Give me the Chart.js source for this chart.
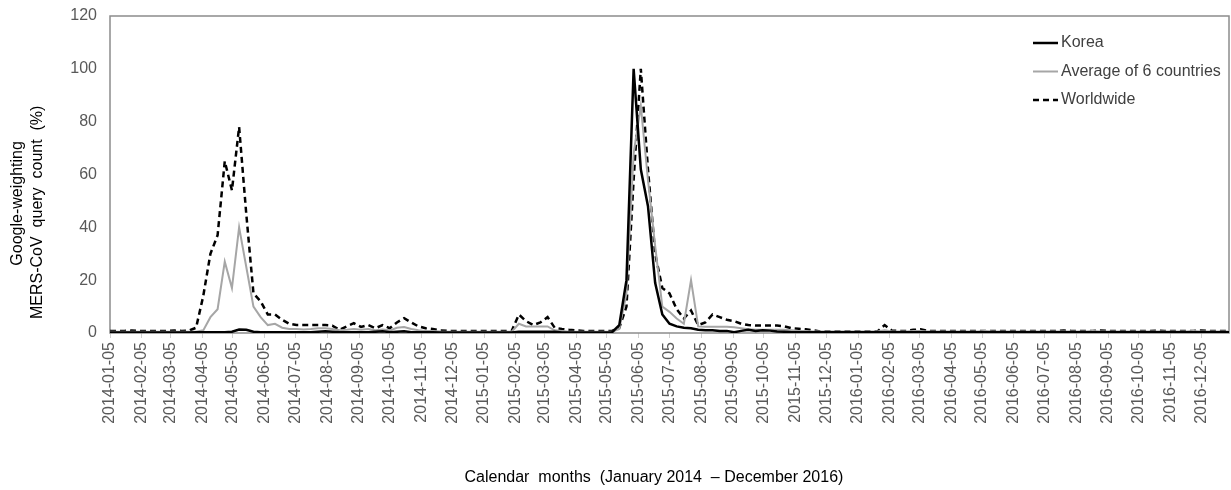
<!DOCTYPE html>
<html>
<head>
<meta charset="utf-8">
<script src="https://cdn.jsdelivr.net/npm/chart.js@4.4.1/dist/chart.umd.min.js"></script>
<style>
  html, body { margin: 0; padding: 0; background: #fff; }
  #chart { display: block; }
</style>
</head>
<body>
<canvas id="chart" width="1231" height="490"></canvas>
<script>
// weekly series, first week 2014-01-05
var startDate = '2014-01-05';

var korea = [
    0.2,0.2,0.2,0.2,0.2,0.2,0.2,0.2,0.2,0.2,0.2,0.2,
    0.3,0.3,0.3,0.3,0.3,0.5,1.3,1.2,0.5,0.3,0.3,0.3,
    0.3,0.3,0.3,0.3,0.3,0.5,0.7,0.5,0.3,0.3,0.3,0.3,
    0.3,0.5,0.7,0.3,0.5,0.7,0.3,0.3,0.3,0.3,0.2,0.2,
    0.2,0.2,0.2,0.2,0.2,0.2,0.2,0.2,0.2,0.5,0.5,0.5,
    0.5,0.5,0.5,0.2,0.2,0.2,0.2,0.2,0.2,0.2,0.3,3,
    20,100,62,48,19,7,3.5,2.5,2,1.8,1.2,1,
    1,0.8,0.8,0.3,0.8,1.2,0.8,1,0.9,0.6,0.5,0.3,
    0.3,0.3,0.3,0.3,0.3,0.3,0.3,0.3,0.3,0.3,0.3,0.3,
    0.3,0.3,0.3,0.3,0.3,0.3,0.3,0.3,0.3,0.3,0.3,0.3,
    0.3,0.3,0.3,0.3,0.3,0.3,0.3,0.3,0.3,0.3,0.3,0.3,
    0.3,0.3,0.3,0.3,0.3,0.3,0.3,0.3,0.3,0.3,0.3,0.3,
    0.3,0.3,0.3,0.3,0.3,0.3,0.3,0.3,0.3,0.3,0.3,0.3,
    0.3
];

var average6 = [
    0.5,0.5,0.5,0.5,0.5,0.5,0.5,0.5,0.5,0.5,0.5,0.5,
    0.5,1,6,9,27,17,40,25,10,6,3,3.5,
    2,1.5,1.5,1.3,1.5,1.8,1.8,1.5,1,1.2,1.5,1.2,
    1.5,1,1.3,1,2,2.3,1.5,1,0.8,0.8,0.6,0.5,
    0.5,0.5,0.5,0.5,0.5,0.5,0.5,0.5,0.5,3.5,2.5,2.5,
    2.5,2.5,1,0.8,0.5,0.5,0.5,0.5,0.5,0.5,0.5,1.5,
    15,68,86,58,33,10,8,5.5,3.5,20,2.5,2.4,
    2.4,2.4,2.4,2.2,1.8,1.4,1.2,1.2,1.2,1.2,1.2,1,
    0.8,0.8,0.6,0.6,0.6,0.6,0.6,0.6,0.6,0.6,0.6,0.6,
    1,0.6,0.6,0.6,0.8,0.8,0.6,0.6,0.6,0.6,0.6,0.6,
    0.6,0.6,0.8,0.6,0.6,0.6,0.6,0.6,0.6,0.6,0.6,0.6,
    0.6,0.6,0.6,0.6,0.6,0.8,0.6,0.6,0.6,0.6,0.6,0.6,
    0.6,0.6,0.6,0.6,0.6,0.6,0.6,0.8,0.6,0.6,0.6,0.6,
    0.6
];

var worldwide = [
    0.8,0.8,0.8,0.9,0.8,0.8,0.8,0.8,0.8,0.9,0.8,0.9,
    2,14,30,37,65,54,78,45,15,12,7,7,
    5,3.5,3,3,3,3,3,2.8,1.2,2.5,3.7,2.3,
    3,1.8,3,1.8,4,5.6,4,2.5,1.8,1.5,1,0.8,
    0.8,0.8,0.8,0.8,0.8,0.8,0.8,0.8,0.8,7,4.5,3,
    4,6,2,1.5,1.2,1,0.8,0.8,0.8,0.8,0.8,2,
    10,58,100,62,30,17,15,9,5.5,8.5,3,4,
    7,6,5,4.5,3.5,3,2.8,2.8,2.8,2.8,2.5,1.8,
    1.6,1.4,1,0.6,0.6,0.6,0.6,0.6,0.6,0.6,0.6,0.6,
    3,0.9,0.8,0.8,1.2,1.4,0.8,0.8,0.8,0.8,0.8,0.8,
    0.8,0.8,0.8,0.8,0.8,0.8,0.8,0.8,0.8,0.8,0.8,0.8,
    0.8,0.9,0.8,0.8,0.8,0.8,0.9,0.8,0.8,0.8,0.8,0.8,
    0.8,0.8,0.9,0.8,0.8,0.8,0.8,0.8,0.9,0.8,0.8,0.8,
    0.8
];

var tickLabels = [
    '2014-01-05','2014-02-05','2014-03-05','2014-04-05','2014-05-05','2014-06-05',
    '2014-07-05','2014-08-05','2014-09-05','2014-10-05','2014-11-05','2014-12-05',
    '2015-01-05','2015-02-05','2015-03-05','2015-04-05','2015-05-05','2015-06-05',
    '2015-07-05','2015-08-05','2015-09-05','2015-10-05','2015-11-05','2015-12-05',
    '2016-01-05','2016-02-05','2016-03-05','2016-04-05','2016-05-05','2016-06-05',
    '2016-07-05','2016-08-05','2016-09-05','2016-10-05','2016-11-05','2016-12-05'
];

var yTicks = [0, 20, 40, 60, 80, 100, 120];

function dayOf(s) {
    return (Date.parse(s) - Date.parse(startDate)) / 86400000;
}
var tickDays = tickLabels.map(dayOf);

function toPoints(arr) {
    return arr.map(function (v, i) { return {x: i * 7, y: v}; });
}
var lastDay = (korea.length - 1) * 7;

// legend inside plot + frame round the plot area
var boxLegend = {
    id: 'boxLegend',
    beforeDatasetsDraw: function (chart) {
        var ctx = chart.ctx, a = chart.chartArea;
        ctx.save();
        ctx.strokeStyle = '#8c8c8c';
        ctx.lineWidth = 1.5;
        ctx.strokeRect(a.left, a.top, a.right - a.left, a.bottom - a.top);
        ctx.restore();
    },
    afterDraw: function (chart) {
        var ctx = chart.ctx;
        ctx.save();
        ctx.font = '16px "Liberation Sans", Arial, sans-serif';
        ctx.textBaseline = 'middle';
        chart.data.datasets.forEach(function (ds, k) {
            var y = 43 + k * 28.5;
            ctx.beginPath();
            ctx.strokeStyle = ds.borderColor;
            ctx.lineWidth = ds.borderWidth;
            ctx.setLineDash(ds.borderDash || []);
            ctx.moveTo(1033, y);
            ctx.lineTo(1058, y);
            ctx.stroke();
            ctx.setLineDash([]);
            ctx.fillStyle = '#404040';
            ctx.fillText(ds.label, 1061, y);
        });
        ctx.restore();
    }
};

Chart.defaults.font.family = '"Liberation Sans", Arial, sans-serif';
Chart.defaults.font.size = 16;

var ctx = document.getElementById('chart').getContext('2d');
var chart = new Chart(ctx, {
    type: 'line',
    data: {
        datasets: [{
            label: 'Korea',
            data: toPoints(korea),
            borderColor: '#000000',
            borderWidth: 2.5
        }, {
            label: 'Average of 6 countries',
            data: toPoints(average6),
            borderColor: '#a6a6a6',
            borderWidth: 2
        }, {
            label: 'Worldwide',
            data: toPoints(worldwide),
            borderColor: '#000000',
            borderWidth: 2.5,
            borderDash: [6, 4]
        }]
    },
    options: {
        responsive: false,
        animation: false,
        devicePixelRatio: 1,
        elements: {
            point: { radius: 0 },
            line: { tension: 0 }
        },
        layout: { padding: { top: 16, right: 2, left: 0, bottom: 0 } },
        plugins: {
            legend: { display: false },
            tooltip: { enabled: false }
        },
        scales: {
            x: {
                type: 'linear',
                min: 0,
                max: lastDay,
                afterBuildTicks: function (scale) {
                    scale.ticks = tickDays.map(function (d) { return {value: d}; });
                },
                afterFit: function (scale) { scale.height = 157; },
                ticks: {
                    autoSkip: false,
                    maxRotation: 90,
                    minRotation: 90,
                    padding: 4,
                    color: '#595959',
                    font: { size: 16 },
                    callback: function (value) {
                        var k = tickDays.indexOf(value);
                        return k >= 0 ? tickLabels[k] : '';
                    }
                },
                grid: {
                    drawOnChartArea: false,
                    drawTicks: true,
                    tickLength: 5,
                    color: '#d0d0d0'
                },
                border: { display: false },
                title: {
                    display: true,
                    text: 'Calendar  months  (January 2014  – December 2016)       ',
                    color: '#000000',
                    font: { size: 16 },
                    padding: { top: 0, bottom: 3 }
                }
            },
            y: {
                min: 0,
                max: 120,
                afterBuildTicks: function (scale) {
                    scale.ticks = yTicks.map(function (v) { return {value: v}; });
                },
                afterFit: function (scale) {
                    scale.width = 110;
                    scale.paddingTop = 0;
                    scale.paddingBottom = 0;
                },
                ticks: {
                    padding: 13,
                    color: '#595959',
                    font: { size: 16 }
                },
                grid: { display: false, drawTicks: false },
                border: { display: false },
                title: {
                    display: true,
                    text: ['Google-weighting             ', 'MERS-CoV  query  count  (%)                 '],
                    color: '#000000',
                    font: { size: 16, lineHeight: 1.25 },
                    padding: { top: 8, bottom: 0 }
                }
            }
        }
    },
    plugins: [boxLegend]
});
</script>
</body>
</html>
